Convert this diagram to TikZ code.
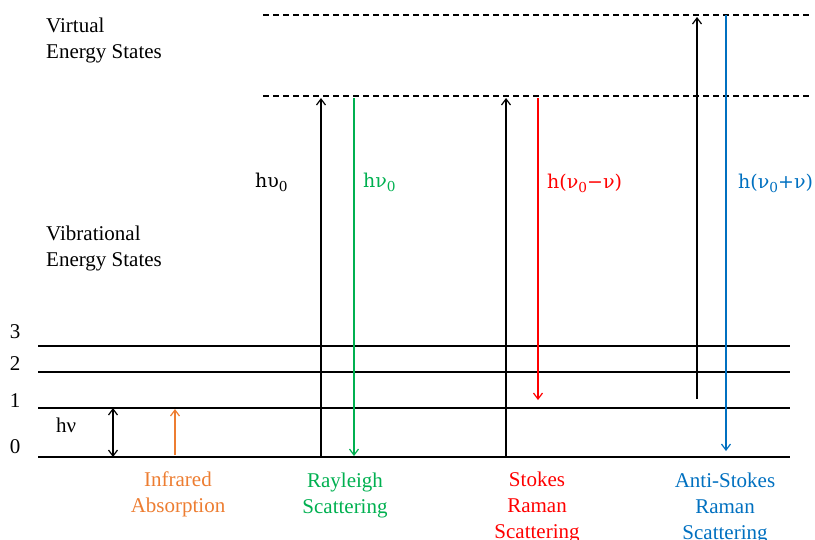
\documentclass[tikz,border=0pt]{standalone}
\usepackage{fontspec}
\usepackage{graphicx}
\setmainfont{Liberation Serif}
\newfontfamily\formfont{DejaVu Serif}
\usetikzlibrary{arrows.meta}
\definecolor{irorange}{HTML}{ED7D31}
\definecolor{raygreen}{HTML}{00B050}
\definecolor{stokesred}{HTML}{FF0000}
\definecolor{antiblue}{HTML}{0070C0}
\newcommand{\lowzero}{\raisebox{-0.22em}{\scalebox{0.72}{0}}}
\tikzset{
  lvl/.style={line width=1.3pt, black},
  virt/.style={line width=1.1pt, black, dash pattern=on 6pt off 4pt},
  transarrow/.style={line width=1.2pt, -{Straight Barb[length=6pt,width=9pt,line width=1.2pt]}},
  txt/.style={inner sep=0pt, font=\fontsize{21}{26}\selectfont},
  formtxt/.style={inner sep=0pt, anchor=base west, font=\formfont\fontsize{19}{22}\selectfont},
}
\begin{document}
\begin{tikzpicture}[x=1pt,y=-1pt]
\useasboundingbox (0,0) rectangle (815,539);
% virtual levels
\coordinate (v2l) at (263,15);  \coordinate (v2r) at (810,15);
\coordinate (v1l) at (263,96);  \coordinate (v1r) at (810,96);
\draw[virt] (v2l) -- (v2r);
\draw[virt] (v1l) -- (v1r);
% vibrational levels
\coordinate (l3a) at (38,346); \coordinate (l3b) at (790,346);
\coordinate (l2a) at (38,372); \coordinate (l2b) at (790,372);
\coordinate (l1a) at (38,408); \coordinate (l1b) at (790,408);
\coordinate (l0a) at (38,457); \coordinate (l0b) at (790,457);
\draw[lvl] (l3a) -- (l3b);
\draw[lvl] (l2a) -- (l2b);
\draw[lvl] (l1a) -- (l1b);
\draw[lvl] (l0a) -- (l0b);
% labels left
\node[txt, anchor=west, align=left] (virtlab) at (46,40) {Virtual\\Energy States};
\node[txt, anchor=west, align=left] (viblab) at (46,248) {Vibrational\\Energy States};
\node[txt] (n3) at (15,332) {3};
\node[txt] (n2) at (15,364) {2};
\node[txt] (n1) at (15,401) {1};
\node[txt] (n0) at (15,447) {0};
\node[txt] (hnu) at (66,425) {hν};
% hv double arrow
\coordinate (dA) at (113,408); \coordinate (dB) at (113,457);
\draw[transarrow, {Straight Barb[length=6pt,width=9pt,line width=1.2pt]}-{Straight Barb[length=6pt,width=9pt,line width=1.2pt]}] (dA) -- (dB);
% infrared
\coordinate (irA) at (175,455); \coordinate (irB) at (175,409);
\draw[transarrow, irorange] (irA) -- (irB);
\node[txt, text=irorange, align=center] (irlab) at (178,494) {Infrared\\Absorption};
% Rayleigh
\coordinate (rA) at (321,457); \coordinate (rB) at (321,98);
\draw[transarrow] (rA) -- (rB);
\coordinate (rC) at (354,98); \coordinate (rD) at (354,456);
\draw[transarrow, raygreen] (rC) -- (rD);
\node[formtxt] (rin) at (255,187) {hυ\lowzero};
\node[formtxt, text=raygreen] (rout) at (363,187) {hν\lowzero};
\node[txt, text=raygreen, align=center] (raylab) at (345,495) {Rayleigh\\Scattering};
% Stokes
\coordinate (sA) at (506,457); \coordinate (sB) at (506,98);
\draw[transarrow] (sA) -- (sB);
\coordinate (sC) at (538,98); \coordinate (sD) at (538,400);
\draw[transarrow, stokesred] (sC) -- (sD);
\node[formtxt, text=stokesred] (sout) at (547,188) {h(ν\lowzero−ν)};
\node[txt, text=stokesred, align=center] (slab) at (537,507) {Stokes\\Raman\\Scattering};
% Anti-Stokes
\coordinate (aA) at (697,399); \coordinate (aB) at (697,17);
\draw[transarrow] (aA) -- (aB);
\coordinate (aC) at (726,15); \coordinate (aD) at (726,451);
\draw[transarrow, antiblue] (aC) -- (aD);
\node[formtxt, text=antiblue] (aout) at (738,188) {h(ν\lowzero+ν)};
\node[txt, text=antiblue, align=center] (alab) at (725,508) {Anti-Stokes\\Raman\\Scattering};
\end{tikzpicture}
\end{document}
